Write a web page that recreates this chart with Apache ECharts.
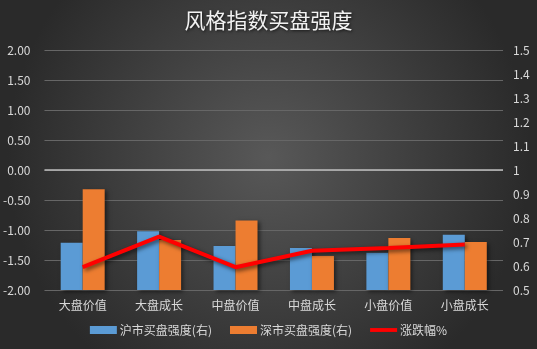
<!DOCTYPE html>
<html><head><meta charset="utf-8">
<script src="https://cdn.jsdelivr.net/npm/echarts@6/dist/echarts.min.js"></script>
<style>html,body{margin:0;padding:0;background:#2b2b2b}#c{width:537px;height:349px}</style>
</head><body><div id="c"></div>
<script>
const categories = ['大盘价值','大盘成长','中盘价值','中盘成长','小盘价值','小盘成长'];
const shBuy = [0.697, 0.745, 0.683, 0.675, 0.655, 0.73];
const szBuy = [0.92, 0.708, 0.79, 0.642, 0.717, 0.70];
const change = [-1.62, -1.11, -1.62, -1.345, -1.30, -1.24];
const leftTicks = {min: -2, max: 2, interval: 0.5};
const rightTicks = {min: 0.5, max: 1.5, interval: 0.1};

const chart = echarts.init(document.getElementById('c'));
const lbl = {color: '#d9d9d9', fontSize: 12, fontFamily: 'Noto Sans CJK SC'};
chart.setOption({
  backgroundColor: {type: 'radial', x: 0.5, y: 0.45, r: 0.75,
    colorStops: [{offset: 0, color: '#585858'}, {offset: 1, color: '#2a2a2a'}]},
  title: {text: '风格指数买盘强度', left: 'center', top: 5,
    textStyle: {color: '#f2f2f2', fontSize: 21, fontWeight: 'normal', fontFamily: 'Noto Sans CJK SC',
      textShadowColor: 'rgba(0,0,0,0.7)', textShadowBlur: 3, textShadowOffsetX: 1, textShadowOffsetY: 1}},
  legend: {bottom: 8, left: 'center', itemGap: 18, itemWidth: 27, itemHeight: 8,
    textStyle: {color: '#d9d9d9', fontSize: 12, fontFamily: 'Noto Sans CJK SC', padding: [0, 0, 0, -2]},
    data: [{name: '沪市买盘强度(右)', icon: 'rect'}, {name: '深市买盘强度(右)', icon: 'rect'},
      {name: '涨跌幅%', icon: 'path://M0,0 L28,0 L28,4 L0,4 Z'}]},
  grid: {left: 41, right: 34, top: 50, bottom: 59},
  xAxis: {type: 'category', data: categories, axisLine: {show: false}, axisTick: {show: false},
    axisLabel: Object.assign({margin: 9}, lbl)},
  yAxis: [
    Object.assign({type: 'value', position: 'left', axisLine: {show: false}, axisTick: {show: false},
      axisLabel: Object.assign({formatter: v => v.toFixed(2), margin: 14}, lbl),
      splitLine: {lineStyle: {color: '#666666', width: 1}}}, leftTicks),
    Object.assign({type: 'value', position: 'right', axisLine: {show: false}, axisTick: {show: false},
      axisLabel: Object.assign({formatter: v => String(Math.round(v * 10) / 10), margin: 10}, lbl),
      splitLine: {show: false}}, rightTicks)
  ],
  series: [
    {name: '沪市买盘强度(右)', type: 'bar', yAxisIndex: 1, data: shBuy, barWidth: 22, barGap: '0%',
      itemStyle: {color: '#5b9bd5', shadowColor: 'rgba(0,0,0,0.5)', shadowBlur: 4, shadowOffsetX: 2, shadowOffsetY: 2}},
    {name: '深市买盘强度(右)', type: 'bar', yAxisIndex: 1, data: szBuy, barWidth: 22, barGap: '0%',
      itemStyle: {color: '#ed7d31', shadowColor: 'rgba(0,0,0,0.5)', shadowBlur: 4, shadowOffsetX: 2, shadowOffsetY: 2}},
    {name: '涨跌幅%', type: 'line', yAxisIndex: 0, data: change, symbol: 'none',
      lineStyle: {color: '#ff0000', width: 4, shadowColor: 'rgba(0,0,0,0.6)', shadowBlur: 4, shadowOffsetX: 2, shadowOffsetY: 2},
      itemStyle: {color: '#ff0000'},
      markLine: {silent: true, symbol: 'none', label: {show: false}, animation: false,
        lineStyle: {color: '#bfbfbf', width: 1.5, type: 'solid'}, data: [{yAxis: 0}]}}
  ],
  animation: false
});
</script></body></html>
